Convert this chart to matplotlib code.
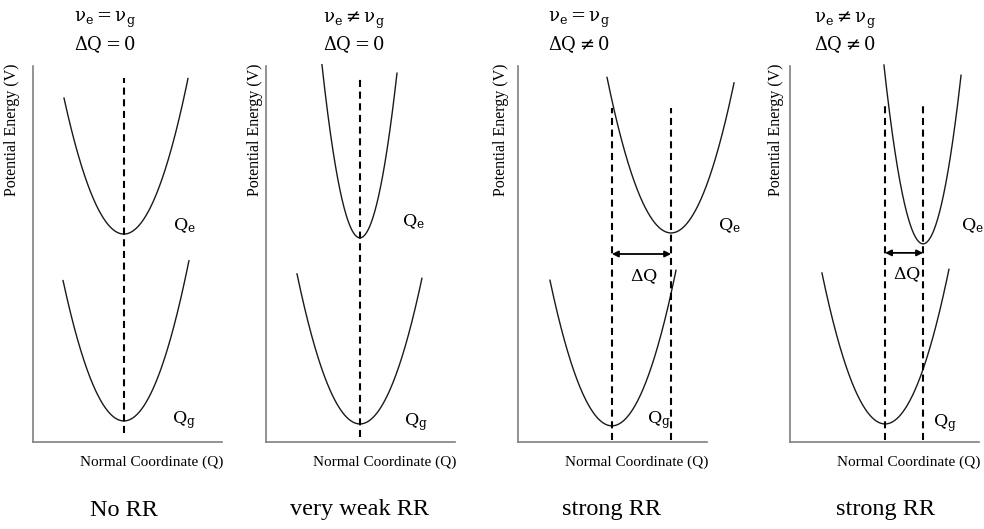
import matplotlib
matplotlib.use("Agg")
import matplotlib.pyplot as plt
import numpy as np

plt.rcParams["font.family"] = ["Liberation Serif", "DejaVu Serif"]
plt.rcParams["mathtext.fontset"] = "dejavuserif"

# Per-panel text
freq_text = [r"$\mathrm{ν_e = ν_g}$", r"$\mathrm{ν_e \neq ν_g}$",
             r"$\mathrm{ν_e = ν_g}$", r"$\mathrm{ν_e \neq ν_g}$"]
shift_text = [r"$\mathrm{\Delta Q = 0}$", r"$\mathrm{\Delta Q = 0}$",
              r"$\mathrm{\Delta Q \neq 0}$", r"$\mathrm{\Delta Q \neq 0}$"]
regime = ["No RR", "very weak RR", "strong RR", "strong RR"]

# Harmonic potentials V = V0 + k (Q - Q0)^2 (axes span 0..10 in Q and V)
ground_q0 = [4.81, 4.97, 4.97, 5.03]
ground_v0 = [0.56, 0.48, 0.43, 0.48]
ground_k = [0.36, 0.36, 0.36, 0.36]
ground_qrange = [(1.59, 8.25), (1.64, 8.25), (1.69, 8.36), (1.69, 8.41)]

excited_q0 = [4.81, 4.97, 8.10, 7.04]
excited_v0 = [5.53, 5.43, 5.56, 5.27]
excited_k = [0.36, 1.14, 0.36, 1.11]
excited_qrange = [(1.64, 8.20), (2.96, 6.93), (4.71, 11.43), (4.97, 9.05)]

# Vertical guide lines at the potential minima: (Q, V_bottom, V_top)
guides = [
    [(4.81, 0.24, 9.68)],
    [(4.97, 0.13, 9.71)],
    [(4.97, 0.05, 8.88), (8.10, 0.05, 8.88)],
    [(5.03, 0.05, 8.94), (7.04, 0.05, 8.94)],
]
# Displacement arrow height (V) for panels with a shift
arrow_v = [None, None, 5.0, 5.03]

# Label positions in data units
qe_pos = [(7.4, 5.75), (7.2, 5.85), (10.6, 5.75), (9.05, 5.75)]
qg_pos = [(7.35, 0.58), (7.3, 0.53), (6.85, 0.58), (7.55, 0.50)]
dq_pos = [None, None, (5.95, 4.4), (5.45, 4.45)]

# Layout (pixels)
W, H, DPI = 984, 529, 100
ax_left = [33, 266, 518, 790]
ax_w, ax_top, ax_bot = 189, 66, 442
ylab_dx = [-21, -11, -17, -14]
title_x = [74, 323, 548, 814]

fig = plt.figure(figsize=(W / DPI, H / DPI), dpi=DPI)
fig.patch.set_facecolor("white")

for i in range(4):
    ax = fig.add_axes([ax_left[i] / W, (H - ax_bot) / H,
                       ax_w / W, (ax_bot - ax_top) / H])
    ax.set_xlim(0, 10)
    ax.set_ylim(0, 10)
    for s in ("top", "right"):
        ax.spines[s].set_visible(False)
    for s in ("left", "bottom"):
        ax.spines[s].set_color("#808080")
        ax.spines[s].set_linewidth(1.2)
    ax.set_xticks([])
    ax.set_yticks([])
    ax.patch.set_alpha(0)

    for q0, v0, k, (lo, hi) in [
        (ground_q0[i], ground_v0[i], ground_k[i], ground_qrange[i]),
        (excited_q0[i], excited_v0[i], excited_k[i], excited_qrange[i]),
    ]:
        q = np.linspace(lo, hi, 300)
        ax.plot(q, v0 + k * (q - q0) ** 2, color="#1a1a1a", lw=1.0,
                clip_on=False)

    for qx, vb, vt in guides[i]:
        ax.plot([qx, qx], [vb, vt], color="black", lw=1.5,
                dashes=(3.4, 2.2), clip_on=False)

    if arrow_v[i] is not None:
        ax.annotate("", xy=(excited_q0[i], arrow_v[i]),
                    xytext=(ground_q0[i], arrow_v[i]),
                    arrowprops=dict(arrowstyle="<|-|>", color="black",
                                    lw=1.3, mutation_scale=9,
                                    shrinkA=0, shrinkB=0))
        ax.text(*dq_pos[i], r"$\mathrm{\Delta Q}$", fontsize=12.5,
                ha="left", va="center")

    ax.text(*qe_pos[i], r"$\mathrm{Q_e}$", fontsize=12.5, ha="left",
            va="center", clip_on=False)
    ax.text(*qg_pos[i], r"$\mathrm{Q_g}$", fontsize=12.5, ha="left",
            va="center", clip_on=False)

    ax.text(ylab_dx[i] / ax_w, 1.0 + 2 / (ax_bot - ax_top),
            "Potential Energy (V)", transform=ax.transAxes, rotation=90,
            ha="center", va="top", fontsize=11.5)
    ax.text(1.0 + 1 / ax_w, -20 / (ax_bot - ax_top),
            "Normal Coordinate (Q)", transform=ax.transAxes,
            ha="right", va="center", fontsize=11)

    fig.text(title_x[i] / W, 1 - 20 / H, freq_text[i], fontsize=13,
             ha="left", va="center")
    fig.text(title_x[i] / W, 1 - 45 / H, shift_text[i], fontsize=13,
             ha="left", va="center")

    cx = ax_left[i] + ground_q0[i] / 10 * ax_w
    fig.text(cx / W, 1 - 510 / H, regime[i], fontsize=17.5,
             ha="center", va="center")

fig.savefig("out.png", dpi=DPI, facecolor="white")
